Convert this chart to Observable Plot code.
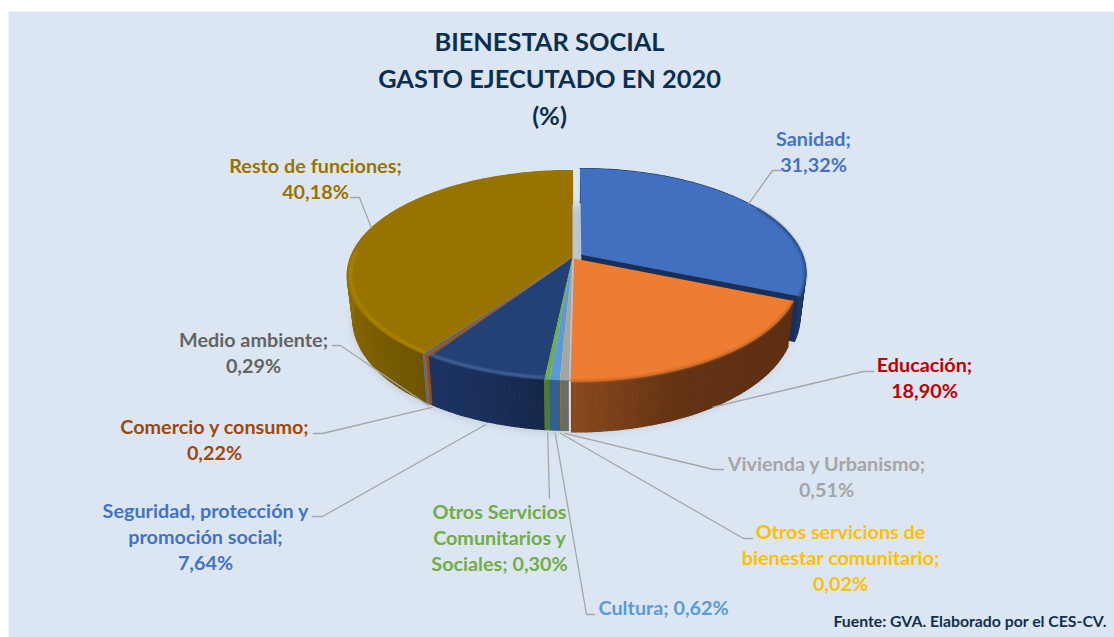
<!DOCTYPE html>
<html lang="es">
<head>
<meta charset="utf-8">
<style>html,body{margin:0;padding:0;background:#fff}svg{display:block}</style>
<script src="https://cdn.jsdelivr.net/npm/d3@7"></script>
<script src="https://cdn.jsdelivr.net/npm/@observablehq/plot@0.6"></script>
</head>
<body>
<div id="chart"></div>
<script>
// ---------- Data ----------
const categories = ["Sanidad","Educación","Vivienda y Urbanismo","Otros servicions de\nbienestar comunitario","Cultura","Otros Servicios\nComunitarios y\nSociales","Seguridad, protección y\npromoción social","Comercio y consumo","Medio ambiente","Resto de funciones"];
const values = [31.32,18.90,0.51,0.02,0.62,0.30,7.64,0.22,0.29,40.18];
const titleLines = ["BIENESTAR SOCIAL","GASTO EJECUTADO EN 2020","(%)"];
const source = "Fuente: GVA. Elaborado por el CES-CV.";

// ---------- Styles ----------
const topColors = ["#4070bf","#ed7d31","#a5a5a5","#ffc000","#5b9bd5","#70ad47","#224275","#9e480e","#636363","#997300"];
const labelColors = ["#4472c4","#c00000","#a5a5a5","#ffc000","#5b9bd5","#70ad47","#4472c4","#9e480e","#636363","#997300"];
const sideStops = [
  ["#1f3864","#1f3864"],
  ["#5e2f13","#5e2f13","#643314","#8a4a1c"],
  ["#6b6b6b","#6b6b6b"],
  ["#a07a00","#a07a00"],
  ["#31608c","#31608c"],
  ["#4f7a33","#4f7a33"],
  ["#14274a","#1a3059","#1c3362"],
  ["#9e480e","#9e480e"],
  ["#6c6c6c","#6c6c6c"],
  ["#6f5400","#8f6c00","#9a7500","#9a7500"]
];
const rimColors = {0:"#2a4a80",1:"#b9662b",6:"#4f6fa6",9:"#b08a00"};
const rimRadius = {0:0.997,1:0.996,6:0.985,9:0.985};
const rimFrom = {0:1.05,1:0,6:0,9:0};
const explode = {0:0.048,1:0.012};

// ---------- Label layout (screen space) ----------
const labelX = [813,924,826,840,598,499,205,214,253,315];
const labelY = [127,353,452,520,596,500,499,415,328,154];
const labelAnchor = ["middle","middle","middle","middle","start","middle","middle","middle","middle","middle"];
const labelSep = ["\n","\n","\n","\n"," "," ","\n","\n","\n","\n"];
const leaderElbows = [
  [[772,170],[781,170]],[[863,371],[873,371]],[[713,469],[723,469]],[[743,538],[752,538]],
  [[586,614],[594,614]],[[549,498]],[[322,516],[312,516]],[[322,433],[313,433]],[[340,345],[332,345]],[[359,197],[350,197]]
];
// Where each leader touches the slice, as a fraction of the wall height
const leaderZ = [0,1,1.06,1.06,1.06,1.06,1.07,1.057,1.05,0];

// ---------- Pie geometry ----------
const cx = 572, cy = 257, rx = 222, ry = 101.9, k = 0.171, depth = 42, sag = 0.19, narrow = 0.025;
const proj = (u,v,z=0) => {
  const w = 1 + k*v;
  return {x: cx + rx*u/w*(1-narrow*z), y: cy - ry*v/w + z*depth*(1-sag*v)};
};
const arcs = d3.pie().sort(null).value(d=>d)(values);
const off = (i) => {
  const e = explode[i]||0, m = (arcs[i].startAngle+arcs[i].endAngle)/2;
  return [e*Math.sin(m), e*Math.cos(m)];
};
const onSlice = (i,a,r,z) => {
  const [ou,ov] = off(i);
  return proj(ou+r*Math.sin(a), ov+r*Math.cos(a), z);
};
const arcAngles = (a0,a1,step=0.012) => {
  const n = Math.max(1,Math.ceil((a1-a0)/step));
  return d3.range(n+1).map(j=>a0+(a1-a0)*j/n);
};

// Ground shadow
const shadow = arcAngles(0,2*Math.PI).map(a=>{
  const p = proj(Math.sin(a),Math.cos(a),1.03); return {x:p.x,y:p.y};
});

// Walls: back-to-front painter order
const wallOrder = [0,9,8,7,6,1,2,3,4,5];
const walls = [];
for (const i of wallOrder) {
  const {startAngle:a0,endAngle:a1} = arcs[i];
  const color = d3.piecewise(d3.interpolateRgb,sideStops[i]);
  if (i===0) { // the exposed cut face of the exploded slice
    [onSlice(i,a1,0,0),onSlice(i,a1,1,0),onSlice(i,a1,1,1),onSlice(i,a1,0,1)]
      .forEach(p=>walls.push({id:`c${i}`,x:p.x,y:p.y,c:"#1a2f58"}));
  }
  const as = arcAngles(a0,a1,0.02);
  for (let j=0;j<as.length-1;j++) {
    const c = d3.color(color((j+.5)/(as.length-1))).formatHex();
    [onSlice(i,as[j],1,0),onSlice(i,as[j+1],1,0),onSlice(i,as[j+1],1,1),onSlice(i,as[j],1,1)]
      .forEach(p=>walls.push({id:`w${i}-${j}`,x:p.x,y:p.y,c}));
  }
}

// Top faces
const tops = [];
for (const i of [9,8,7,6,5,4,3,2,0,1]) {
  const {startAngle:a0,endAngle:a1} = arcs[i];
  const o = onSlice(i,a0,0,0);
  tops.push({id:i,x:o.x,y:o.y,c:topColors[i]});
  arcAngles(a0,a1).forEach(a=>{const p=onSlice(i,a,1,0);tops.push({id:i,x:p.x,y:p.y,c:topColors[i]});});
}

// Bevel along the front rim of the larger slices
const rims = [];
for (const key of Object.keys(rimColors)) {
  const i = +key, a0 = Math.max(arcs[i].startAngle,rimFrom[i]||Math.PI/2*0.95), a1 = Math.min(arcs[i].endAngle,Math.PI*1.52);
  arcAngles(a0+.005,a1-.005).forEach(a=>{const p=onSlice(i,a,rimRadius[i],0);rims.push({id:i,x:p.x,y:p.y,c:rimColors[i]});});
}

// Thin light seam where the exploded orange slice parts from its neighbours
const seam = [onSlice(1,arcs[1].endAngle,1,0),onSlice(1,arcs[1].endAngle,1,1)].map(p=>({x:p.x-.6,y:p.y}));

// Leaders: start from each slice's mid-angle, computed from its value
const leaders = [];
categories.forEach((_,i)=>{
  const m = (arcs[i].startAngle+arcs[i].endAngle)/2;
  const s = onSlice(i,m,1,leaderZ[i]);
  [{x:s.x,y:s.y},...leaderElbows[i].map(([x,y])=>({x,y}))].forEach(p=>leaders.push({id:i,x:p.x,y:p.y}));
});

const fmt = v => v.toFixed(2).replace(".",",")+"%";
const labels = categories.map((c,i)=>({
  text:`${c};${labelSep[i]}${fmt(values[i])}`,x:labelX[i],y:labelY[i],fill:labelColors[i],anchor:labelAnchor[i]
}));
const titleRows = titleLines.map((text,i)=>({text,x:549,y:42.5+i*37}));

const font = "Lato, 'Open Sans', sans-serif";
const chart = Plot.plot({
  width:1114,height:637,
  marginLeft:8,marginTop:11,marginRight:0,marginBottom:0,
  x:{domain:[8,1114],axis:null},
  y:{domain:[637,11],axis:null},
  style:{background:"#ffffff"},
  marks:[
    Plot.frame({fill:"#dce6f2",stroke:"none"}),
    Plot.line(shadow,{x:"x",y:"y",fill:"#3c465a",fillOpacity:0.2,stroke:"none",curve:"linear",imageFilter:"blur(5px)"}),
    Plot.line(walls,{x:"x",y:"y",z:"id",fill:"c",stroke:"c",strokeWidth:1.2,curve:"linear"}),
    Plot.line(seam,{x:"x",y:"y",stroke:"#eef3f9",strokeWidth:1.6,curve:"linear"}),
    Plot.line(tops,{x:"x",y:"y",z:"id",fill:"c",stroke:"none",curve:"linear"}),
    Plot.line(rims,{x:"x",y:"y",z:"id",stroke:"c",strokeWidth:2,curve:"linear",imageFilter:"blur(0.8px)"}),
    Plot.line(leaders,{x:"x",y:"y",z:"id",stroke:"#a6a6a6",strokeWidth:1.3,curve:"linear"}),
    Plot.text(titleRows,{x:"x",y:"y",text:"text",fill:"#0c2f50",fontFamily:font,fontWeight:"bold",fontSize:25.4,textAnchor:"middle",lineAnchor:"middle"}),
    Plot.text(labels,{x:"x",y:"y",text:"text",fill:"fill",fontFamily:font,fontWeight:"bold",fontSize:19.8,lineHeight:1.32,textAnchor:"middle",lineAnchor:"top",filter:d=>d.anchor==="middle"}),
    Plot.text(labels,{x:"x",y:"y",text:"text",fill:"fill",fontFamily:font,fontWeight:"bold",fontSize:19.8,lineHeight:1.32,textAnchor:"start",lineAnchor:"top",filter:d=>d.anchor==="start"}),
    Plot.text([source],{x:()=>1106,y:()=>621,text:d=>d,fill:"#12304e",fontFamily:font,fontWeight:"bold",fontSize:15.8,textAnchor:"end",lineAnchor:"middle"})
  ]
});
document.getElementById("chart").append(chart);
</script>
</body>
</html>
